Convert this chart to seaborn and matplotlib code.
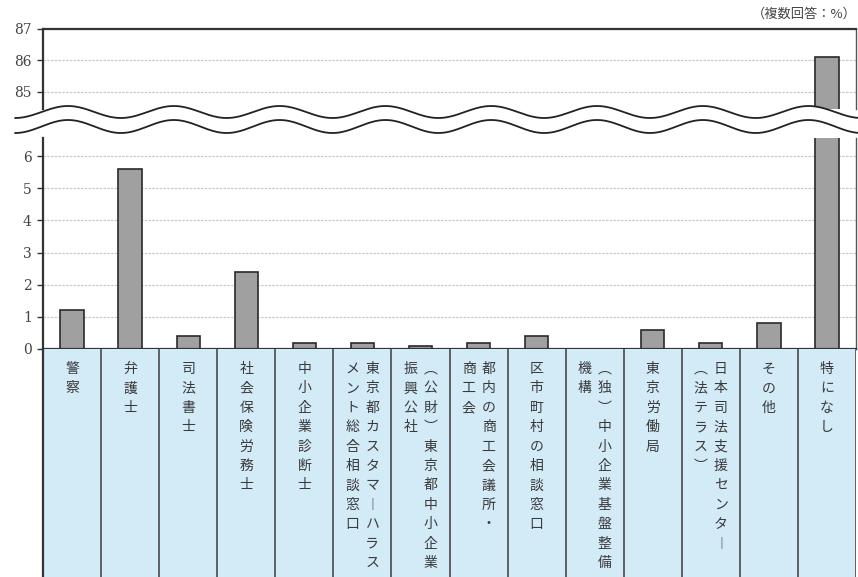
import numpy as np
import pandas as pd
import matplotlib
matplotlib.use("Agg")
import matplotlib.pyplot as plt
import seaborn as sns

# Survey: where respondents sought advice (multiple answers, %)
categories = [
    "警察",
    "弁護士",
    "司法書士",
    "社会保険労務士",
    "中小企業診断士",
    "東京都カスタマーハラス\nメント総合相談窓口",
    "（公財）東京都中小企業\n振興公社",
    "都内の商工会議所・\n商工会",
    "区市町村の相談窓口",
    "（独）中小企業基盤整備\n機構",
    "東京労働局",
    "日本司法支援センター\n（法テラス）",
    "その他",
    "特になし",
]
values = [1.2, 5.6, 0.4, 2.4, 0.2, 0.2, 0.1, 0.2, 0.4, 0.0, 0.6, 0.2, 0.8, 86.1]
low_ticks = [0, 1, 2, 3, 4, 5, 6]
high_ticks = [85, 86, 87]
unit_note = "（複数回答：%）"

sns.set_theme(style="white")
plt.rcParams["font.family"] = ["Noto Sans CJK JP", "DejaVu Sans"]

W, H = 858, 577
fig = plt.figure(figsize=(W / 100, H / 100), dpi=100)
fig.patch.set_facecolor("white")


def fx(px):
    return px / W


def fy(py):
    return 1 - py / H


X0, X1 = 43, 856
ax_hi = fig.add_axes([fx(X0), fy(109), fx(X1) - fx(X0), fy(29) - fy(109)])
ax_lo = fig.add_axes([fx(X0), fy(349), fx(X1) - fx(X0), fy(138) - fy(349)])
ax_lab = fig.add_axes([fx(X0), 0, fx(X1) - fx(X0), fy(349)])

df = pd.DataFrame({"label": categories, "value": values})
bar_kw = dict(data=df, x="label", y="value", order=categories, color="#a0a0a0",
              edgecolor="#2a2a2a", linewidth=1.2, width=0.4, saturation=1)

tick_font = dict(family="DejaVu Serif", size=10, color="#444444")
spine_c = "#333333"

for ax, lim, ticks in [(ax_hi, (84.45, 87), high_ticks), (ax_lo, (0, 6.56), low_ticks)]:
    sns.barplot(ax=ax, **bar_kw)
    ax.set_ylim(*lim)
    ax.set_xlim(-0.5, len(categories) - 0.5)
    ax.set_yticks(ticks)
    ax.set_yticklabels([str(t) for t in ticks], fontdict=tick_font)
    ax.set_xticks([])
    ax.set_xlabel("")
    ax.set_ylabel("")
    ax.set_axisbelow(True)
    ax.yaxis.grid(True, color="#c8c8c8", lw=0.9, ls=(0, (2, 1)))
    ax.tick_params(axis="y", left=True, direction="out", length=4, width=1,
                   color=spine_c, pad=4)
    for s in ax.spines.values():
        s.set_color(spine_c)
    ax.spines["left"].set_linewidth(1.6)
    ax.spines["right"].set_linewidth(1.0)
    ax.spines["right"].set_color("#555555")

ax_hi.spines["bottom"].set_visible(False)
ax_hi.spines["top"].set_linewidth(1.6)
ax_lo.spines["top"].set_visible(False)
ax_lo.spines["bottom"].set_linewidth(1.6)

# Category label panel with vertical (top-to-bottom) Japanese text
n = len(categories)
ax_lab.set_xlim(-0.5, n - 0.5)
ax_lab.set_ylim(H - 349, 0)
ax_lab.set_facecolor("#d3eaf7")
ax_lab.set_xticks([])
ax_lab.set_yticks([])
for side in ["top", "bottom", "right"]:
    ax_lab.spines[side].set_visible(False)
ax_lab.spines["left"].set_color(spine_c)
ax_lab.spines["left"].set_linewidth(1.6)
for i in range(n):
    ax_lab.axvline(i + 0.5, color="#4a4a4a", lw=1.2)

vertical_forms = {"（": "\uFE35", "）": "\uFE36", "ー": "\uFE31"}
col_step = 20 / ((X1 - X0) / n)
char_step = 19.4
for i, name in enumerate(categories):
    cols = name.split("\n")
    for j, col in enumerate(cols):
        cx = i + (len(cols) - 1) / 2 * col_step - j * col_step
        for k, ch in enumerate(col):
            ax_lab.text(cx, 20 + k * char_step, vertical_forms.get(ch, ch),
                        ha="center", va="center", fontsize=10, color="#3a3a3a",
                        family=["Noto Sans CJK JP", "DejaVu Sans"])

# Axis break: two wavy lines with a white band between them
ax_ov = fig.add_axes([0, 0, 1, 1], zorder=10)
ax_ov.set_xlim(0, W)
ax_ov.set_ylim(H, 0)
ax_ov.axis("off")
xw = np.linspace(15, W, 600)
phase = np.cos(2 * np.pi * (xw - 68) / 105.8)
y_up = 112 - 6 * phase
y_dn = 126.5 - 6.5 * phase
ax_ov.fill_between(xw, y_up, y_dn, color="white", lw=0)
ax_ov.plot(xw, y_up, color="#222222", lw=1.3)
ax_ov.plot(xw, y_dn, color="#222222", lw=1.3)

fig.text(fx(857), fy(14), unit_note, ha="right", va="center", fontsize=9.5,
         color="#444444", family=["Noto Sans CJK JP", "DejaVu Sans"])

fig.savefig("out.png", dpi=100, facecolor="white")
